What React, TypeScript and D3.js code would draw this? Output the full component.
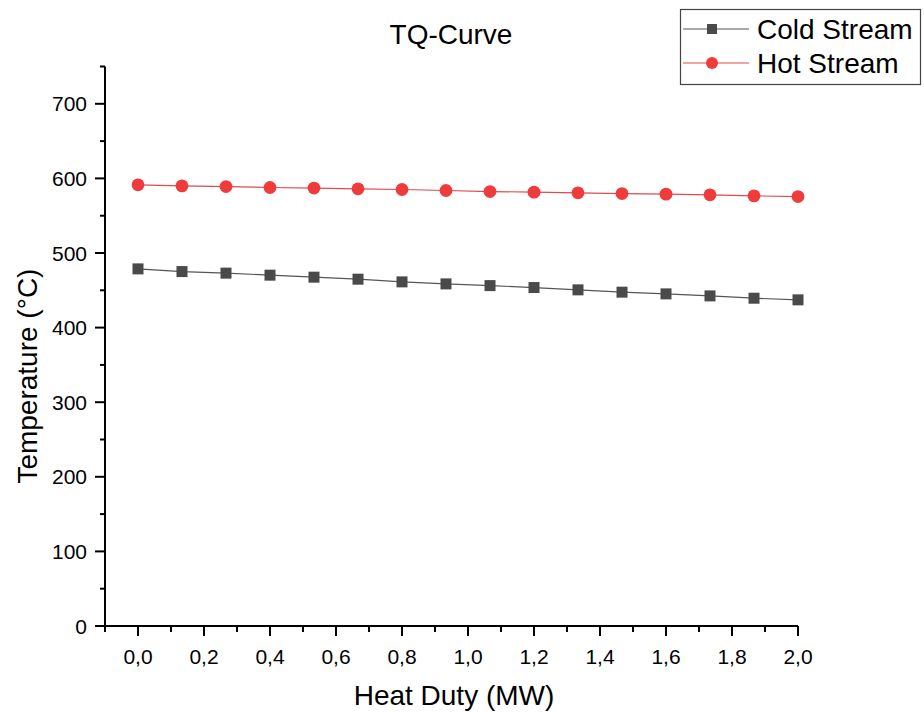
import React from "react";
import * as d3 from "d3";

// Heat duty (MW) at each exchanger step
const heatDuty = [
  0, 0.1333, 0.2667, 0.4, 0.5333, 0.6667, 0.8, 0.9333, 1.0667, 1.2, 1.3333,
  1.4667, 1.6, 1.7333, 1.8667, 2.0,
];
// Stream temperatures (°C)
const coldStream = [
  478.7, 475.1, 473.0, 470.3, 467.6, 464.9, 461.3, 458.6, 456.3, 453.7, 450.6,
  447.5, 445.2, 442.5, 439.4, 437.2,
];
const hotStream = [
  591.4, 590.0, 589.1, 587.8, 587.0, 586.0, 585.1, 583.8, 582.4, 581.6, 580.7,
  579.7, 578.9, 578.0, 576.6, 575.7,
];
const xTicks = [0, 0.2, 0.4, 0.6, 0.8, 1.0, 1.2, 1.4, 1.6, 1.8, 2.0];
const xMinorTicks = [-0.1, 0.1, 0.3, 0.5, 0.7, 0.9, 1.1, 1.3, 1.5, 1.7, 1.9];
const yTicks = [0, 100, 200, 300, 400, 500, 600, 700];
const yMinorTicks = [50, 150, 250, 350, 450, 550, 650, 750];
const seriesNames = ["Cold Stream", "Hot Stream"];

const W = 924;
const H = 713;
const FONT = "'Liberation Sans', Arial, sans-serif";

export default function App() {
  const x = d3.scaleLinear().domain([-0.1, 2.0]).range([105, 798]);
  const y = d3.scaleLinear().domain([0, 750]).range([626, 66.5]);

  const line = d3
    .line<number>()
    .x((_, i) => x(heatDuty[i]))
    .y((d) => y(d));

  const fmt = (v: number) => v.toFixed(1).replace(".", ",");

  const coldColor = "#4a4a4a";
  const hotColor = "#ef3b3b";
  const sq = 11;

  return (
    <svg
      width={W}
      height={H}
      style={{ position: "absolute", left: 0, top: 0, background: "#fff" }}
      fontFamily={FONT}
    >
      <rect width={W} height={H} fill="#fff" />

      {/* title */}
      <text x={451} y={44} fontSize={28} textAnchor="middle" fill="#000">
        TQ-Curve
      </text>

      {/* series lines */}
      <path d={line(coldStream) || ""} fill="none" stroke="#555" strokeWidth={1.2} />
      <path d={line(hotStream) || ""} fill="none" stroke="#e04a4a" strokeWidth={1.2} />

      {/* markers */}
      {coldStream.map((v, i) => (
        <rect
          key={"c" + i}
          x={x(heatDuty[i]) - sq / 2}
          y={y(v) - sq / 2}
          width={sq}
          height={sq}
          fill={coldColor}
        />
      ))}
      {hotStream.map((v, i) => (
        <circle key={"h" + i} cx={x(heatDuty[i])} cy={y(v)} r={6.4} fill={hotColor} />
      ))}

      {/* axes */}
      <line x1={x(-0.1)} x2={x(2.0)} y1={y(0)} y2={y(0)} stroke="#000" strokeWidth={2} />
      <line x1={x(-0.1)} x2={x(-0.1)} y1={y(0)} y2={y(750)} stroke="#000" strokeWidth={2} />

      {xTicks.map((t) => (
        <g key={"xt" + t}>
          <line x1={x(t)} x2={x(t)} y1={y(0)} y2={y(0) + 10} stroke="#000" strokeWidth={2} />
          <text x={x(t)} y={664} fontSize={21} textAnchor="middle" fill="#000">
            {fmt(t)}
          </text>
        </g>
      ))}
      {xMinorTicks.map((t) => (
        <line key={"xm" + t} x1={x(t)} x2={x(t)} y1={y(0)} y2={y(0) + 6} stroke="#000" strokeWidth={2} />
      ))}

      {yTicks.map((t) => (
        <g key={"yt" + t}>
          <line x1={x(-0.1) - 10} x2={x(-0.1)} y1={y(t)} y2={y(t)} stroke="#000" strokeWidth={2} />
          <text x={87} y={y(t) + 7.5} fontSize={21} textAnchor="end" fill="#000">
            {t}
          </text>
        </g>
      ))}
      {yMinorTicks.map((t) => (
        <line key={"ym" + t} x1={x(-0.1) - 5} x2={x(-0.1)} y1={y(t)} y2={y(t)} stroke="#000" strokeWidth={2} />
      ))}

      {/* axis titles */}
      <text x={454} y={705} fontSize={28} textAnchor="middle" fill="#000">
        Heat Duty (MW)
      </text>
      <text
        transform={`translate(37, ${y(335)}) rotate(-90)`}
        fontSize={28}
        textAnchor="middle"
        fill="#000"
      >
        Temperature (°C)
      </text>

      {/* legend */}
      <rect x={680.5} y={9.5} width={240} height={75} fill="#fff" stroke="#444" strokeWidth={1.2} />
      <line x1={683} x2={749} y1={29} y2={29} stroke="#555" strokeWidth={1.2} />
      <rect x={712 - 5} y={29 - 5} width={10} height={10} fill={coldColor} />
      <text x={757} y={39} fontSize={28} fill="#000">
        {seriesNames[0]}
      </text>
      <line x1={683} x2={749} y1={63} y2={63} stroke="#e04a4a" strokeWidth={1.2} />
      <circle cx={712} cy={63} r={6} fill={hotColor} />
      <text x={757} y={73} fontSize={28} fill="#000">
        {seriesNames[1]}
      </text>
    </svg>
  );
}
